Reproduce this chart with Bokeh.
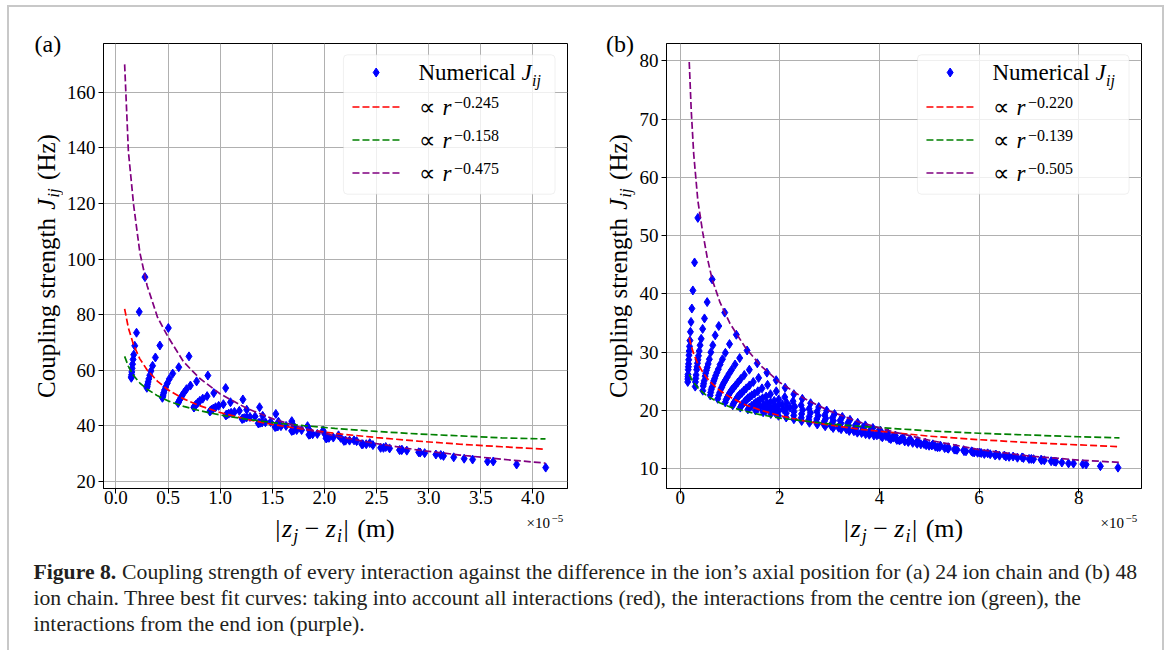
import math
from bokeh.plotting import figure
from bokeh.layouts import column, row
from bokeh.models import Range1d, Label, Title, BoxAnnotation, FixedTicker, PrintfTickFormatter
from bokeh.embed import file_html
from bokeh.resources import INLINE

SERIF = "Liberation Serif"

# ------------------------------------------------------------------ data
# Panel (a): 24 ion chain. One list per neighbour order k; separation |z_j - z_i| in 1e-5 m
a_sep = [
    [0.148, 0.149, 0.151, 0.153, 0.156, 0.160, 0.165, 0.171, 0.181, 0.198, 0.224, 0.279],
    [0.297, 0.300, 0.304, 0.309, 0.316, 0.325, 0.336, 0.352, 0.379, 0.422, 0.503],
    [0.446, 0.449, 0.453, 0.459, 0.467, 0.478, 0.493, 0.513, 0.545, 0.603, 0.701],
    [0.597, 0.601, 0.609, 0.620, 0.634, 0.652, 0.677, 0.715, 0.774, 0.882],
    [0.748, 0.750, 0.757, 0.769, 0.785, 0.805, 0.833, 0.875, 0.939, 1.053],
    [0.901, 0.906, 0.917, 0.934, 0.956, 0.986, 1.031, 1.099, 1.218],
    [1.054, 1.057, 1.066, 1.082, 1.105, 1.137, 1.184, 1.255, 1.378],
    [1.210, 1.217, 1.231, 1.253, 1.286, 1.335, 1.408, 1.534],
    [1.366, 1.370, 1.382, 1.402, 1.434, 1.484, 1.559, 1.687],
    [1.526, 1.535, 1.553, 1.583, 1.632, 1.708, 1.838],
    [1.686, 1.691, 1.706, 1.734, 1.781, 1.856, 1.987],
    [1.851, 1.862, 1.887, 1.932, 2.005, 2.135],
    [2.016, 2.022, 2.043, 2.085, 2.156, 2.284],
    [2.187, 2.203, 2.241, 2.309, 2.435],
    [2.358, 2.368, 2.401, 2.465, 2.588],
    [2.539, 2.566, 2.625, 2.744],
    [2.720, 2.737, 2.790, 2.904],
    [2.918, 2.961, 3.069],
    [3.116, 3.142, 3.240],
    [3.340, 3.421],
    [3.564, 3.619],
    [3.843],
    [4.122],
]
# coupling strength J_ij (Hz), same layout as a_sep
a_J = [
    [57.3, 57.7, 58.4, 59.4, 60.7, 62.2, 63.9, 65.6, 68.8, 73.5, 81.0, 93.5],
    [53.7, 54.2, 54.9, 55.8, 56.9, 58.2, 59.7, 61.6, 64.6, 68.9, 75.2],
    [50.1, 50.5, 51.1, 51.9, 52.9, 54.0, 55.3, 56.9, 58.8, 61.1, 65.0],
    [48.2, 48.6, 49.2, 49.9, 50.8, 51.9, 53.2, 54.5, 56.0, 58.1],
    [46.6, 46.8, 47.2, 47.7, 48.3, 49.0, 49.8, 50.7, 51.8, 53.6],
    [45.2, 45.4, 45.8, 46.2, 46.7, 47.2, 47.8, 48.5, 49.5],
    [43.8, 43.9, 44.1, 44.4, 44.7, 45.0, 45.4, 45.8, 46.7],
    [42.5, 42.6, 42.8, 43.0, 43.2, 43.4, 43.6, 44.3],
    [40.9, 41.0, 41.1, 41.2, 41.3, 41.4, 41.5, 41.7],
    [39.6, 39.7, 39.8, 39.9, 40.0, 39.9, 39.9],
    [38.2, 38.3, 38.4, 38.5, 38.5, 38.4, 38.3],
    [36.8, 36.9, 37.0, 37.1, 37.0, 36.6],
    [35.5, 35.6, 35.7, 35.8, 35.7, 34.8],
    [34.6, 34.7, 34.7, 34.5, 33.8],
    [33.4, 33.4, 33.4, 33.1, 32.4],
    [32.1, 32.1, 31.9, 31.4],
    [31.3, 31.3, 31.1, 30.5],
    [30.4, 30.2, 29.7],
    [29.5, 29.2, 28.7],
    [28.2, 27.9],
    [27.2, 27.2],
    [26.1],
    [25.0],
]

# Panel (b): 48 ion chain
b_sep = [
    [0.353, 0.287, 0.253, 0.233, 0.216, 0.204, 0.194, 0.186, 0.180, 0.175, 0.170, 0.166, 0.163, 0.160, 0.156, 0.154, 0.152, 0.150],
    [0.640, 0.540, 0.486, 0.449, 0.420, 0.398, 0.380, 0.366, 0.355, 0.345, 0.336, 0.329, 0.318, 0.311, 0.305, 0.300],
    [0.893, 0.773, 0.702, 0.653, 0.614, 0.584, 0.560, 0.541, 0.525, 0.511, 0.499, 0.481, 0.469, 0.462, 0.452],
    [1.126, 0.989, 0.906, 0.847, 0.800, 0.764, 0.735, 0.711, 0.691, 0.674, 0.659, 0.637, 0.623, 0.611, 0.601],
    [1.342, 1.193, 1.100, 1.033, 0.980, 0.939, 0.905, 0.877, 0.854, 0.834, 0.817, 0.792, 0.770, 0.752],
    [1.546, 1.387, 1.286, 1.213, 1.155, 1.109, 1.071, 1.040, 1.014, 0.992, 0.973, 0.946, 0.922, 0.903],
    [1.740, 1.573, 1.466, 1.388, 1.325, 1.275, 1.234, 1.200, 1.172, 1.148, 1.128, 1.090, 1.068, 1.054],
    [1.926, 1.753, 1.641, 1.558, 1.491, 1.438, 1.394, 1.358, 1.328, 1.303, 1.282, 1.240, 1.218, 1.206],
    [2.106, 1.928, 1.811, 1.724, 1.654, 1.598, 1.552, 1.514, 1.483, 1.435, 1.390, 1.358],
    [2.281, 2.098, 1.977, 1.887, 1.814, 1.756, 1.708, 1.669, 1.610, 1.560, 1.511],
    [2.451, 2.264, 2.140, 2.047, 1.972, 1.912, 1.863, 1.790, 1.720, 1.664],
    [2.617, 2.427, 2.300, 2.205, 2.128, 2.067, 1.980, 1.900, 1.818],
    [2.780, 2.587, 2.458, 2.283, 2.128, 1.972],
    [2.940, 2.745, 2.614, 2.437, 2.279, 2.127],
    [3.098, 2.901, 2.769, 2.590, 2.430, 2.282],
    [3.254, 3.056, 2.923, 2.742, 2.580, 2.438],
    [3.409, 3.210, 3.076, 2.893, 2.730, 2.594],
    [3.563, 3.363, 3.228, 3.044, 2.880, 2.752],
    [3.716, 3.515, 3.379, 3.194, 3.031, 2.910],
    [3.868, 3.666, 3.530, 3.344, 3.182, 3.070],
    [4.019, 3.817, 3.680, 3.494, 3.334, 3.230],
    [4.170, 3.967, 3.830, 3.645, 3.487, 3.393],
    [4.320, 4.117, 3.980, 3.796, 3.641, 3.556],
    [4.470, 4.267, 4.131, 3.948, 3.796, 3.722],
    [4.620, 4.282, 4.039, 3.888],
    [4.771, 4.434, 4.194, 4.058],
    [4.922, 4.587, 4.350, 4.228],
    [5.074, 4.741, 4.508, 4.403],
    [5.227, 4.896, 4.668, 4.578],
    [5.381, 5.052, 4.831, 4.758],
    [5.536, 5.210, 4.997, 4.938],
    [5.692, 5.370, 5.167, 5.124],
    [5.850, 5.533, 5.383, 5.310],
    [6.010, 5.699, 5.558, 5.504],
    [6.173, 5.869, 5.738, 5.698],
    [6.339, 6.044, 5.971, 5.902],
    [6.509, 6.224, 6.106],
    [6.684, 6.410, 6.322],
    [6.864, 6.604, 6.538],
    [7.050, 6.891, 6.771],
    [7.244, 7.095, 7.004],
    [7.448, 7.311, 7.257],
    [7.664, 7.544, 7.510],
    [7.897, 7.797],
    [8.150, 8.084],
    [8.437],
    [8.790],
]
b_J = [
    [53.05, 45.4, 40.6, 37.5, 35.2, 33.5, 32.0, 31.0, 30.2, 29.5, 28.7, 28.0, 27.5, 27.0, 26.2, 25.8, 25.4, 24.9],
    [42.5, 38.6, 35.8, 34.0, 32.3, 31.2, 30.2, 29.4, 28.7, 28.1, 27.5, 27.0, 26.1, 25.5, 24.9, 24.1],
    [36.8, 34.5, 32.9, 31.2, 30.0, 28.8, 28.0, 27.4, 26.9, 26.4, 25.9, 25.1, 24.6, 24.2, 23.4],
    [33.0, 31.4, 29.9, 28.8, 27.9, 27.1, 26.5, 26.0, 25.5, 25.1, 24.7, 24.0, 23.6, 23.1, 22.6],
    [30.3, 29.0, 27.9, 27.0, 26.3, 25.7, 25.2, 24.8, 24.4, 24.0, 23.7, 23.1, 22.6, 22.0],
    [28.1, 27.0, 26.1, 25.4, 24.8, 24.3, 23.9, 23.6, 23.3, 23.0, 22.7, 22.3, 21.9, 21.4],
    [26.5, 25.6, 24.9, 24.3, 23.8, 23.4, 23.0, 22.8, 22.5, 22.3, 22.0, 21.5, 21.2, 20.9],
    [25.2, 24.4, 23.8, 23.3, 22.9, 22.6, 22.3, 22.1, 21.8, 21.6, 21.4, 21.0, 20.7, 20.5],
    [23.9, 23.3, 22.8, 22.4, 22.1, 21.8, 21.5, 21.3, 21.1, 20.8, 20.5, 20.2],
    [22.8, 22.3, 21.9, 21.65, 21.4, 21.2, 21.0, 20.85, 20.6, 20.35, 20.0],
    [22.0, 21.6, 21.3, 21.05, 20.85, 20.65, 20.5, 20.3, 20.0, 19.7],
    [21.25, 20.9, 20.65, 20.5, 20.3, 20.2, 19.95, 19.7, 19.4],
    [20.6, 20.3, 20.1, 19.8, 19.55, 19.1],
    [20.0, 19.8, 19.6, 19.4, 19.15, 18.8],
    [19.4, 19.2, 19.1, 18.95, 18.75, 18.5],
    [18.9, 18.75, 18.65, 18.55, 18.4, 18.2],
    [18.4, 18.3, 18.25, 18.15, 18.05, 17.9],
    [17.9, 17.85, 17.8, 17.75, 17.7, 17.6],
    [17.45, 17.45, 17.45, 17.4, 17.35, 17.3],
    [17.0, 17.05, 17.05, 17.05, 17.05, 17.0],
    [16.55, 16.65, 16.7, 16.75, 16.8, 16.8],
    [16.1, 16.25, 16.35, 16.4, 16.45, 16.5],
    [15.7, 15.85, 15.95, 16.05, 16.15, 16.2],
    [15.35, 15.5, 15.6, 15.75, 15.85, 15.95],
    [15.05, 15.35, 15.55, 15.7],
    [14.75, 15.05, 15.25, 15.4],
    [14.45, 14.75, 14.95, 15.1],
    [14.2, 14.5, 14.7, 14.85],
    [13.95, 14.25, 14.45, 14.6],
    [13.7, 14.0, 14.2, 14.3],
    [13.45, 13.75, 13.95, 14.05],
    [13.2, 13.5, 13.7, 13.8],
    [13.0, 13.3, 13.45, 13.55],
    [12.8, 13.1, 13.25, 13.3],
    [12.65, 12.9, 13.0, 13.05],
    [12.45, 12.7, 12.75, 12.8],
    [12.28, 12.5, 12.55],
    [12.1, 12.25, 12.3],
    [11.95, 12.05, 12.1],
    [11.7, 11.85, 11.9],
    [11.55, 11.65, 11.7],
    [11.3, 11.45, 11.5],
    [11.08, 11.2, 11.25],
    [10.9, 10.93],
    [10.74, 10.8],
    [10.45],
    [10.2],
]

# Best-fit curves
a_fit_x = [0.084, 0.12, 0.17, 0.23, 0.3, 0.4, 0.5, 0.65, 0.8, 1.0, 1.25, 1.5, 1.8, 2.1, 2.5, 2.9, 3.3, 3.7, 4.12]
a_fit_all = [82.1, 75.2, 69.1, 64.1, 60.1, 56.0, 53.0, 49.7, 47.3, 44.8, 42.4, 40.5, 38.8, 37.3, 35.8, 34.5, 33.4, 32.5, 31.6]
a_fit_centre = [65.0, 61.4, 58.1, 55.4, 53.2, 50.8, 49.0, 47.0, 45.5, 43.9, 42.4, 41.2, 40.1, 39.1, 38.0, 37.1, 36.4, 35.7, 35.3]
a_fit_end = [170.0, 138.7, 119.5, 102.3, 90.4, 79.0, 72.0, 63.0, 57.2, 51.5, 46.4, 42.6, 39.1, 36.4, 33.6, 31.3, 29.5, 28.0, 26.6]

b_fit_x = [0.18, 0.22, 0.27, 0.353, 0.45, 0.54, 0.64, 0.8, 1.0, 1.3, 1.6, 2.0, 2.5, 3.0, 3.6, 4.3, 5.0, 6.0, 7.0, 8.0, 8.82]
b_fit_all = [32.5, 31.1, 29.7, 28.0, 26.6, 25.5, 24.6, 23.4, 22.3, 21.0, 20.1, 19.1, 18.2, 17.5, 16.8, 16.2, 15.6, 15.0, 14.5, 14.1, 13.8]
b_fit_centre = [26.2, 25.5, 24.8, 23.9, 23.1, 22.5, 22.0, 21.3, 20.6, 19.9, 19.3, 18.7, 18.2, 17.7, 17.3, 16.9, 16.5, 16.1, 15.8, 15.5, 15.3]
b_fit_end = [79.8, 71.5, 64.0, 56.0, 50.6, 46.3, 42.5, 38.5, 34.9, 30.9, 27.8, 24.8, 22.0, 19.9, 18.0, 16.3, 14.9, 13.3, 12.2, 11.5, 11.1]

a_exponents = ["\u22120.245", "\u22120.158", "\u22120.475"]
b_exponents = ["\u22120.220", "\u22120.139", "\u22120.505"]
fit_colors = ["red", "green", "purple"]

a_xticks = [0.0, 0.5, 1.0, 1.5, 2.0, 2.5, 3.0, 3.5, 4.0]
a_yticks = [20, 40, 60, 80, 100, 120, 140, 160]
b_xticks = [0, 2, 4, 6, 8]
b_yticks = [10, 20, 30, 40, 50, 60, 70, 80]

caption_lines = [
    "Coupling strength of every interaction against the difference in the ion\u2019s axial position for (a) 24 ion chain and (b) 48",
    "ion chain. Three best fit curves: taking into account all interactions (red), the interactions from the centre ion (green), the",
    "interactions from the end ion (purple).",
]

DASH = "7 3"

# ------------------------------------------------------------------ helpers
W_REG = {' ': 0.25, '(': 0.333, ')': 0.333, '|': 0.2, '\u2212': 0.564, '\u00d7': 0.564, '.': 0.25,
         'C': 0.667, 'H': 0.722, 'N': 0.722, 'F': 0.556,
         'a': 0.444, 'c': 0.444, 'e': 0.444, 'g': 0.5, 'h': 0.5, 'i': 0.278, 'l': 0.278,
         'm': 0.778, 'n': 0.5, 'o': 0.5, 'p': 0.5, 'r': 0.333, 's': 0.389, 't': 0.278,
         'u': 0.5, 'z': 0.444}
W_IT = {'J': 0.444, 'i': 0.278, 'j': 0.278, 'z': 0.389, 'r': 0.389}
W_BOLD = {'F': 0.611, 'i': 0.278, 'g': 0.5, 'u': 0.556, 'r': 0.444, 'e': 0.444, ' ': 0.25, '.': 0.25}
MID = 0.3375   # distance (in em) from the baseline up to the middle of the em box


def tw(text, size, style="normal"):
    table = W_IT if style == "italic" else (W_BOLD if style == "bold" else W_REG)
    return sum(table.get(ch, W_REG.get(ch, 0.5)) for ch in text) * size


class Frame:
    """Maps page pixel positions to data coordinates of one plot frame."""
    def __init__(self, left, top, width, height, xr, yr):
        self.left, self.top, self.width, self.height = left, top, width, height
        self.xr, self.yr = xr, yr

    def x(self, px):
        return self.xr[0] + (px - self.left) * (self.xr[1] - self.xr[0]) / self.width

    def y(self, py):
        return self.yr[1] - (py - self.top) * (self.yr[1] - self.yr[0]) / self.height


def add_text(p, org, px, py, text, size, style="normal", rotated=False, color="black"):
    """Text whose baseline starts at page pixel (px, py); canvas units of figure p (page origin org)."""
    if rotated:
        ax, ay, angle = px - MID * size, py, math.pi / 2
    else:
        ax, ay, angle = px, py - MID * size, 0.0
    p.add_layout(Label(x=ax - org[0], y=ay - org[1], x_units="canvas", y_units="canvas",
                       text=text, text_font=SERIF,
                       text_font_size=f"{size}px", text_font_style=style, text_align="left",
                       text_baseline="middle", angle=angle, text_color=color))


def compose(p, org, pieces, center, base, rotated=False):
    widths = [tw(t, s, st) for (t, s, st, sh, g) in pieces]
    total = sum(widths) + sum(g for (_, _, _, _, g) in pieces[:-1])
    off = 0.0
    for (t, s, st, sh, g), w in zip(pieces, widths):
        if rotated:
            add_text(p, org, base + sh, center + total / 2 - off, t, s, st, rotated=True)
        else:
            add_text(p, org, center - total / 2 + off, base + sh, t, s, st)
        off += w + g


def strip(w, h):
    """A blank figure whose frame is its whole canvas, used to hold text."""
    f = figure(width=w, height=h, x_range=Range1d(0, w), y_range=Range1d(0, h),
               output_backend="svg", toolbar_location=None, title=None, min_border=0)
    f.axis.visible = False
    f.grid.visible = False
    f.outline_line_color = None
    f.background_fill_color = "white"
    f.border_fill_color = "white"
    return f


ORIGIN_X, ORIGIN_Y = 9, 7          # page position of the layout contents
ROW1_B = 513                        # page y where the x-label strip starts
ROW2_B = 555                        # page y where the caption starts


def make_panel(tag, sep, J, fit_x, fits, exps, xticks, yticks, xfmt,
               cell_left, strip_w, cell_w, fr_left, fr_w, xr, yr, legend_left, ylab_base, tag_x):
    fr_top, fr_h = 43, 445
    fig_left = cell_left + strip_w
    fig_w = cell_w - strip_w
    org = (fig_left, ORIGIN_Y)
    p = figure(width=fig_w, height=ROW1_B - ORIGIN_Y, x_range=Range1d(*xr), y_range=Range1d(*yr),
               output_backend="svg", toolbar_location=None, title=None,
               min_border_left=fr_left - fig_left, min_border_right=fig_left + fig_w - fr_left - fr_w,
               min_border_top=fr_top - ORIGIN_Y, min_border_bottom=ROW1_B - fr_top - fr_h)
    fr = Frame(fr_left, fr_top, fr_w, fr_h, xr, yr)
    p.background_fill_color = "white"
    p.border_fill_color = "white"
    p.outline_line_color = "black"
    p.outline_line_width = 1
    p.outline_line_alpha = 1

    p.xaxis.ticker = FixedTicker(ticks=xticks)
    p.yaxis.ticker = FixedTicker(ticks=yticks)
    if xfmt:
        p.xaxis.formatter = PrintfTickFormatter(format=xfmt)
    for ax in (p.xaxis[0], p.yaxis[0]):
        ax.axis_line_color = "black"
        ax.major_tick_line_color = "black"
        ax.major_tick_in = 0
        ax.major_tick_out = 5
        ax.minor_tick_line_color = None
        ax.major_label_text_font = SERIF
        ax.major_label_text_font_size = "19px"
        ax.major_label_text_color = "black"
        ax.axis_label = None
    p.xaxis.major_label_standoff = -3
    p.yaxis.major_label_standoff = 3
    p.grid.grid_line_color = "#b0b0b0"
    p.grid.grid_line_width = 1

    # scatter of all interactions
    xs = [v for s in sep for v in s]
    ys = [v for s in J for v in s]
    p.scatter(xs, ys, marker="diamond", size=9, fill_color="blue", line_color="blue", line_width=1)
    # best fit curves
    for col, fy in zip(fit_colors, fits):
        p.line(fit_x, fy, line_color=col, line_dash=DASH, line_width=1.7)

    # legend (matplotlib style)
    lb_l, lb_r, lb_t, lb_b = legend_left, legend_left + 212, 54.3, 193.7
    p.add_layout(BoxAnnotation(left=fr.x(lb_l), right=fr.x(lb_r), top=fr.y(lb_t), bottom=fr.y(lb_b),
                               fill_color="white", fill_alpha=0.8, line_color="#cccccc",
                               line_width=1, border_radius=4, level="underlay"))
    rows_y = [72.0, 106.5, 139.5, 172.5]
    s0, s1 = legend_left + 9, legend_left + 56.5
    tx = legend_left + 75.5
    p.scatter([fr.x((s0 + s1) / 2)], [fr.y(rows_y[0])], marker="diamond", size=9,
              fill_color="blue", line_color="blue", line_width=1)
    add_text(p, org, tx, rows_y[0] + 8, "Numerical", 23)
    add_text(p, org, tx + 103, rows_y[0] + 8, "J", 23, "italic")
    add_text(p, org, tx + 113.5, rows_y[0] + 13, "ij", 16, "italic")
    for col, ry, ex in zip(fit_colors, rows_y[1:], exps):
        p.line([fr.x(s0), fr.x(s1)], [fr.y(ry), fr.y(ry)], line_color=col, line_dash=DASH, line_width=1.7)
        add_text(p, org, tx, ry + 8, "\u221d", 23)
        add_text(p, org, tx + 24, ry + 8, "r", 23, "italic")
        add_text(p, org, tx + 35.5, ry + 0.5, ex, 16)

    # left strip: panel tag (as a title above the strip's frame) and y axis label
    left = strip(strip_w, ROW1_B - ORIGIN_Y)
    left.add_layout(Title(text=tag, align="left", offset=tag_x - cell_left, standoff=-26,
                          vertical_align="bottom", text_font=SERIF, text_font_size="24px",
                          text_font_style="normal", text_color="black"), "above")
    lorg = (cell_left, ORIGIN_Y)
    compose(left, lorg, [("Coupling strength", 25, "normal", 0, 8.3),
                         ("J", 25, "italic", 0, 1.0),
                         ("ij", 17, "italic", 4, 8.3),
                         ("(Hz)", 25, "normal", 0, 0)],
            fr_top + fr_h / 2, ylab_base, rotated=True)

    # bottom strip: x axis label and offset text
    bottom = strip(cell_w, ROW2_B - ROW1_B)
    borg = (cell_left, ROW1_B)
    compose(bottom, borg, [("|", 26, "normal", 0, 1.5),
                           ("z", 26, "italic", 0, 1.0),
                           ("j", 18, "italic", 5, 6.5),
                           ("\u2212", 26, "normal", 0, 6.5),
                           ("z", 26, "italic", 0, 1.0),
                           ("i", 18, "italic", 5, 1.5),
                           ("|", 26, "normal", 0, 8.5),
                           ("(m)", 26, "normal", 0, 0)],
            fr_left + fr_w / 2, 537)
    add_text(bottom, borg, fr_left + fr_w - 41, 528, "\u00d710", 15)
    add_text(bottom, borg, fr_left + fr_w - 16, 521.5, "\u22125", 11)
    return left, p, bottom


la, pa, ba = make_panel("(a)", a_sep, a_J, a_fit_x, [a_fit_all, a_fit_centre, a_fit_end], a_exponents,
                        a_xticks, a_yticks, "%.1f",
                        cell_left=ORIGIN_X, strip_w=54, cell_w=581, fr_left=102, fr_w=465,
                        xr=(-0.1187, 4.331), yr=(17.48, 177.51), legend_left=342.5,
                        ylab_base=54.5, tag_x=34)
lb, pb, bb = make_panel("(b)", b_sep, b_J, b_fit_x, [b_fit_all, b_fit_centre, b_fit_end], b_exponents,
                        b_xticks, b_yticks, None,
                        cell_left=ORIGIN_X + 581, strip_w=46, cell_w=572, fr_left=665, fr_w=476,
                        xr=(-0.2766, 9.2625), yr=(6.62, 82.97), legend_left=916.5,
                        ylab_base=626.5, tag_x=605.5)

# caption
CAP_H, CAP_W = 95, 1153
cap = strip(CAP_W, CAP_H)
corg = (ORIGIN_X, ROW2_B)
CAP_SIZE = 21.7
bold_w = tw("Figure 8. ", CAP_SIZE, "bold")
add_text(cap, corg, 33, 579, "Figure 8.", CAP_SIZE, "bold", color="#231f20")
add_text(cap, corg, 33 + bold_w, 579, caption_lines[0], CAP_SIZE, color="#231f20")
add_text(cap, corg, 33, 605, caption_lines[1], CAP_SIZE, color="#231f20")
add_text(cap, corg, 33, 631, caption_lines[2], CAP_SIZE, color="#231f20")

root = column(row(la, pa, lb, pb), row(ba, bb), cap,
              styles={"margin-left": "7px", "margin-top": "5px",
                      "border-left": "2px solid #c8c8c8", "border-top": "2px solid #c8c8c8",
                      "border-right": "2px solid #c8c8c8"})

open("out.html", "w").write(file_html(root, INLINE))
